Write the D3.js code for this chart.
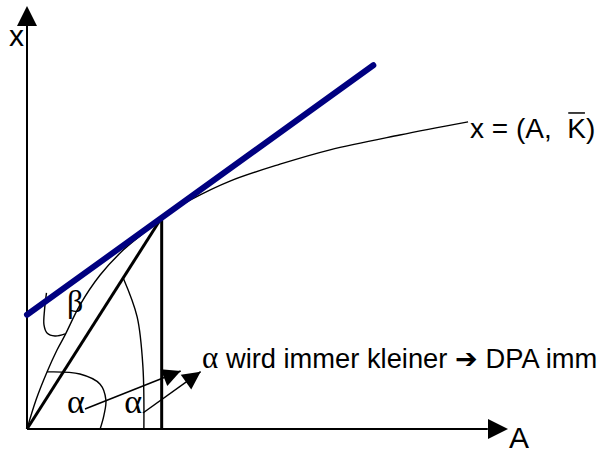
<!DOCTYPE html>
<html><head><meta charset="utf-8">
<script src="https://cdn.jsdelivr.net/npm/d3@7"></script>
<style>html,body{margin:0;padding:0;background:#fff;overflow:hidden}</style>
</head><body>
<svg id="c" width="599" height="453"></svg>
<script>
// data (arbitrary units: A on horizontal, x on vertical)
const production = [[0,0],[1.87,6.86],[4.16,13.48],[6.24,18.68],[7.9,22.2],[11.0,29.3],[15.2,36.4],[20.0,42.3],[24.5,46.6],[28,50.1],[33.9,54.1],[42.2,58.6],[52.6,62.6],[63.0,66.0],[77.5,69.5],[91.7,72.6]];
const tangentLine = [[0,27],[72,86]];
const tangentPoint = [28,50];
const alphaArc1 = [[4.16,13.5],[11.0,13.0],[15.2,10.6],[16.4,6.9],[16.0,3.3],[15.2,0]];
const alphaArc2 = [[20.0,35.7],[22.9,26.5],[24.1,14.7],[24.3,0]];
const betaArc = [[4.05,32.2],[3.64,28.1],[3.53,24.6],[4.16,22.7],[5.82,22.0],[7.9,22.5]];
const arrows = [[[12.06,4.73],[31.95,13.71]],[[24.1,3.78],[36.1,13.55]]];
const labels = [
  {t:"α", p:[8.3,3.8], size:34},
  {t:"α", p:[20.2,3.8], size:34},
  {t:"β", p:[8.3,27.6], size:32}
];
const noteText = "wird immer kleiner ➔ DPA imm";
const notePos = [36.4,14.4];
const curveLabel = ["x = (A,  ", "K", ")"];
const curveLabelPos = [92.1,68.8];
const axisLabels = {y:"x", x:"A"};

const svg = d3.select("#c");
const X = d3.scaleLinear().domain([0,100]).range([27,508]);
const Y = d3.scaleLinear().domain([0,100]).range([429,6]);

function head(x1,y1,x2,y2,len,hw){
  const dx=x2-x1, dy=y2-y1, L=Math.hypot(dx,dy), ux=dx/L, uy=dy/L;
  const bx=x2-ux*len, by=y2-uy*len;
  return [[x2,y2],[bx-uy*hw,by+ux*hw],[bx+uy*hw,by-ux*hw]];
}
const poly = pts => "M"+pts.map(p=>p.join(",")).join("L")+"Z";

// axes
const ax0 = [X(0),Y(0)];
svg.append("line").attr("x1",ax0[0]).attr("y1",ax0[1]).attr("x2",ax0[0]).attr("y2",Y(95.3)).attr("stroke","#000").attr("stroke-width",2);
svg.append("line").attr("x1",ax0[0]).attr("y1",ax0[1]).attr("x2",X(95.8)).attr("y2",ax0[1]).attr("stroke","#000").attr("stroke-width",2);
svg.append("path").attr("d",poly(head(ax0[0],ax0[1],X(0),Y(100),20,10))).attr("fill","#000");
svg.append("path").attr("d",poly(head(ax0[0],ax0[1],X(100),Y(0),20,10))).attr("fill","#000");
svg.append("text").attr("x",X(0)-18).attr("y",46).attr("font-family","Liberation Sans, Arial, sans-serif").attr("font-size",30).text(axisLabels.y);
svg.append("text").attr("x",X(100)+1).attr("y",448).attr("font-family","Liberation Sans, Arial, sans-serif").attr("font-size",30).text(axisLabels.x);

const line = d3.line().x(d=>X(d[0])).y(d=>Y(d[1]));
const smooth = d3.line().x(d=>X(d[0])).y(d=>Y(d[1])).curve(d3.curveCatmullRom.alpha(0.5));

// arcs
[alphaArc1, alphaArc2, betaArc].forEach(a=>{
  svg.append("path").attr("d",smooth(a)).attr("fill","none").attr("stroke","#000").attr("stroke-width",1.4);
});

// production curve
svg.append("path").attr("d",smooth(production)).attr("fill","none").attr("stroke","#000").attr("stroke-width",1.4);

// chord and vertical
svg.append("path").attr("d",line([[0,0],tangentPoint])).attr("stroke","#000").attr("stroke-width",3).attr("fill","none");
svg.append("path").attr("d",line([[tangentPoint[0],0],tangentPoint])).attr("stroke","#000").attr("stroke-width",3).attr("fill","none");

// tangent line
svg.append("path").attr("d",line(tangentLine)).attr("stroke","#000080").attr("stroke-width",6).attr("stroke-linecap","round").attr("fill","none");

// arrows
arrows.forEach(([a,b])=>{
  const x1=X(a[0]),y1=Y(a[1]),x2=X(b[0]),y2=Y(b[1]);
  svg.append("line").attr("x1",x1).attr("y1",y1).attr("x2",x2).attr("y2",y2).attr("stroke","#000").attr("stroke-width",1.5);
  svg.append("path").attr("d",poly(head(x1,y1,x2,y2,18,9))).attr("fill","#000");
});

// greek labels
labels.forEach(l=>{
  svg.append("text").attr("x",X(l.p[0])).attr("y",Y(l.p[1])).attr("font-family","Liberation Serif, Times New Roman, serif").attr("font-size",l.size).text(l.t);
});

// note
const note = svg.append("text").attr("x",X(notePos[0])).attr("y",Y(notePos[1])).attr("font-family","Liberation Sans, Arial, sans-serif").attr("font-size",27.3);
note.append("tspan").attr("font-family","Liberation Serif, Times New Roman, serif").attr("font-size",31).text("α");
note.append("tspan").text(" "+noteText);

// curve label
const cl = svg.append("text").attr("x",X(curveLabelPos[0])).attr("y",Y(curveLabelPos[1])).attr("font-family","Liberation Sans, Arial, sans-serif").attr("font-size",28).style("white-space","pre");
cl.text(curveLabel.join(""));
const kIdx = curveLabel[0].length;
const ext = cl.node().getExtentOfChar(kIdx);
svg.append("line").attr("x1",ext.x+1).attr("x2",ext.x+ext.width-1).attr("y1",Y(curveLabelPos[1])-25).attr("y2",Y(curveLabelPos[1])-25).attr("stroke","#000").attr("stroke-width",1.5);
</script>
</body></html>
